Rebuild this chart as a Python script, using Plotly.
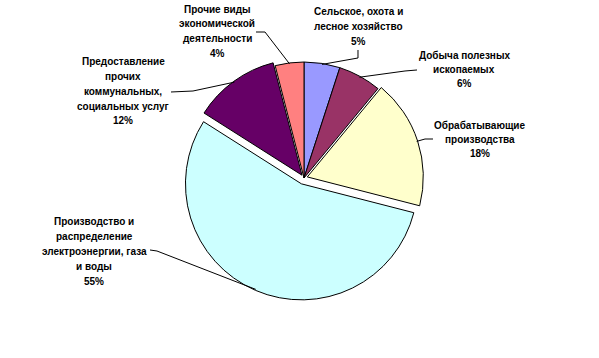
import math
import plotly.graph_objects as go

W, H = 599, 358

# ---- data ----
categories = [
    "Сельское, охота и лесное хозяйство",
    "Добыча полезных ископаемых",
    "Обрабатывающие производства",
    "Производство и распределение электроэнергии, газа и воды",
    "Предоставление прочих коммунальных, социальных услуг",
    "Прочие виды экономической деятельности",
]
values = [5, 6, 18, 55, 12, 4]
label_lines = [
    ["Сельское, охота и", "лесное хозяйство"],
    ["Добыча полезных", "ископаемых"],
    ["Обрабатывающие", "производства"],
    ["Производство и", "распределение", "электроэнергии, газа", "и воды"],
    ["Предоставление", "прочих", "коммунальных,", "социальных услуг"],
    ["Прочие виды", "экономической", "деятельности"],
]

# ---- styles / layout constants ----
colors = ["#9999FF", "#993366", "#FFFFCC", "#CCFFFF", "#660066", "#FF8080"]
pulls = [0, 0, 0.03, 0.055, 0.03, 0]
# label block: (center x px, first line y px, line step px)
label_pos = [(358, 12, 14.5), (464, 55, 14.5), (480, 125, 14), (94, 221, 15),
             (123, 62, 14.7), (217, 9, 14.7)]
# leader: start (at label) and elbow points in px
leaders = [((358, 50), (358, 58)), ((417, 70), (405, 71)), ((433, 139), (425, 139)),
           ((150, 250), (157, 251)), ((171, 92), (193, 91)), ((256, 32), (265, 32))]

CX, CY, R = 304, 178, 116
half = R * (1 + max(pulls))
dom_x = [(CX - half) / W, (CX + half) / W]
dom_y = [1 - (CY + half) / H, 1 - (CY - half) / H]

fig = go.Figure(go.Pie(
    labels=categories, values=values, sort=False, direction="clockwise", rotation=0,
    marker=dict(colors=colors, line=dict(color="black", width=1)),
    pull=pulls, textinfo="none", hoverinfo="label+percent", showlegend=False,
    domain=dict(x=dom_x, y=dom_y),
))

def px2paper(x, y):
    return x / W, 1 - y / H

annotations = []
shapes = []
total = sum(values)
cum = 0
for i, v in enumerate(values):
    mid = (cum + v / 2) / total * 2 * math.pi
    cum += v
    rr = R * (1 + pulls[i]) - 1
    ex, ey = CX + rr * math.sin(mid), CY - rr * math.cos(mid)
    (sx, sy), (bx, by) = leaders[i]
    p = [px2paper(sx, sy), px2paper(bx, by), px2paper(ex, ey)]
    path = "M {:.5f} {:.5f} L {:.5f} {:.5f} L {:.5f} {:.5f}".format(*p[0], *p[1], *p[2])
    shapes.append(dict(type="path", path=path, xref="paper", yref="paper",
                       line=dict(color="black", width=1)))
    lx, ly, step = label_pos[i]
    lines = label_lines[i] + [f"{v}%"]
    for k, t in enumerate(lines):
        ax_, ay_ = px2paper(lx, ly + k * step)
        annotations.append(dict(x=ax_, y=ay_, xref="paper", yref="paper", text=t,
                                showarrow=False, xanchor="center", yanchor="middle",
                                font=dict(family="Arial, Liberation Sans", size=10,
                                          color="black", weight="bold")))

fig.update_layout(width=W, height=H, margin=dict(l=0, r=0, t=0, b=0),
                  paper_bgcolor="white", plot_bgcolor="white",
                  annotations=annotations, shapes=shapes)
fig.write_html("out.html")
